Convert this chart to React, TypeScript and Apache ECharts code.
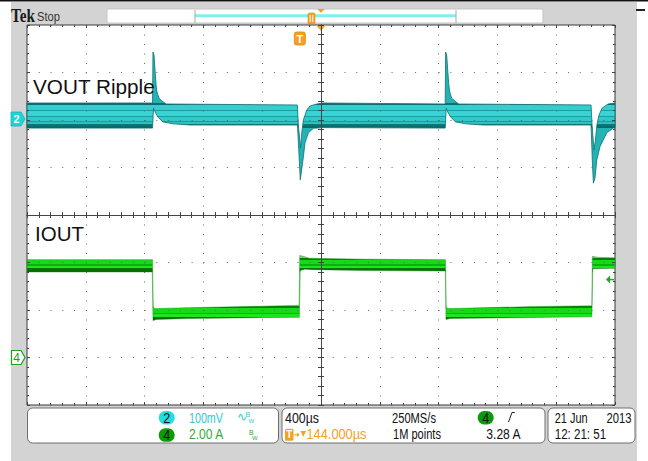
import React, { useEffect, useRef } from "react";
import * as echarts from "echarts";

// ---------- acquisition / axes (scope settings) ----------
const timeMin = -2000; // µs (400 µs/div, 10 div)
const timeMax = 2000;
const timeStep = 400;
const ch2Min = -600; // mV (100 mV/div, ground 2 div above centre)
const ch2Max = 200;
const ch2Step = 100;
const ch4Min = -2; // A (2 A/div, ground 3 div below centre)
const ch4Max = 14;
const ch4Step = 2;
const triggerTime = -144; // µs
const triggerLevel = 3.28; // A

// ---------- labels / readouts ----------
const ch2Name = "VOUT Ripple";
const ch4Name = "IOUT";
const ch2Scale = "100mV";
const ch4Scale = "2.00 A";
const timeScale = "400µs";
const sampleRate = "250MS/s";
const triggerDelay = "144.000µs";
const recordLen = "1M points";
const trigLevelText = "3.28 A";
const dateText = "21 Jun";
const yearText = "2013";
const clockText = "12: 21: 51";

// ---------- CH2 (VOUT) persistence envelope: [µs, mV] ----------
const ch2Upper: [number, number][] = [
  [-2000, 35.8], [-1146, 35.8], [-1143, 143], [-1136, 137], [-1129, 105], [-1122, 74], [-1116, 59],
  [-1102, 46], [-1082, 40], [-1054, 33.7], [-161, 31.6], [-154, -10.5], [-139, -59], [-131, -27],
  [-120, 0], [-97, 21], [-75, 29.5], [-29, 33.7], [14, 35.8], [845, 33.7], [848, 143], [855, 137],
  [862, 105], [869, 76], [876, 59], [889, 46], [910, 40], [937, 33.7], [1837, 31.6], [1844, -10.5],
  [1857, -63], [1867, -42], [1877, -10.5], [1891, 10.5], [1912, 25], [1953, 33.7], [2000, 35.8],
];
const ch2Lower: [number, number][] = [
  [-2000, -17], [-1146, -17], [-1139, 25], [-1129, 17], [-1109, 6], [-1075, -4], [-1007, -8],
  [-891, -10.5], [-160, -10.5], [-146, -95], [-141, -126], [-129, -99], [-120, -78], [-109, -48],
  [-86, -27], [-52, -17.5], [14, -16], [845, -17], [852, 25], [862, 17], [882, 6], [916, -4],
  [984, -8], [1100, -10.5], [1837, -10.5], [1847, -95], [1853, -133], [1864, -122], [1876, -84],
  [1898, -56], [1944, -27], [1989, -17], [2000, -17],
];
const ch2Band: [number, number] = [35.8, -17];

// ---------- CH4 (IOUT) persistence envelope: [µs, A] ----------
const ch4Upper: [number, number][] = [
  [-2000, 4.12], [-1146, 4.12], [-1141, 2.12], [-1130, 2.06], [-900, 2.1], [-400, 2.16], [-149, 2.2],
  [-145, 4.3], [-120, 4.26], [-80, 4.18], [300, 4.14], [847, 4.12], [852, 2.1], [870, 2.06],
  [1400, 2.14], [1842, 2.18], [1846, 4.26], [1880, 4.22], [2000, 4.2],
];
const ch4Lower: [number, number][] = [
  [-2000, 3.6], [-1148, 3.6], [-1143, 1.55], [-1120, 1.6], [-900, 1.64], [-400, 1.68], [-147, 1.7],
  [-141, 3.66], [-110, 3.72], [-60, 3.7], [300, 3.66], [846, 3.64], [850, 1.6], [880, 1.64],
  [1400, 1.68], [1843, 1.72], [1849, 3.74], [2000, 3.76],
];
const ch4Bands: [number, number][] = [[4.2, 3.6], [2.15, 1.58]];

const sans = "'Liberation Sans',Arial,sans-serif";
const serif = "'Liberation Serif','DejaVu Serif',serif";
const dotCol = "#666";
const axCol = "#444";

type Pal = [number, string][];
const ch2Pal: Pal = [
  [0, "#0b6e6e"], [0.09, "#0b6e6e"], [0.09, "#35cece"], [0.28, "#35cece"], [0.28, "#1a9e9e"], [0.33, "#1a9e9e"],
  [0.33, "#3ad2d2"], [0.5, "#3ad2d2"], [0.5, "#1a9e9e"], [0.55, "#1a9e9e"], [0.55, "#30c8c8"],
  [0.7, "#30c8c8"], [0.7, "#1c9c9c"], [0.75, "#1c9c9c"], [0.75, "#2cc0c0"], [0.84, "#2cc0c0"],
  [0.84, "#107a7a"], [1, "#0a6464"],
];
const ch4Pal: Pal = [
  [0, "#0a800a"], [0.15, "#0a800a"], [0.15, "#14dc14"], [0.45, "#14dc14"], [0.45, "#0cb00c"],
  [0.55, "#0cb00c"], [0.55, "#1ee41e"], [0.75, "#1ee41e"], [0.75, "#077507"], [1, "#066806"],
];

function bandGradient(bands: [number, number][], pal: Pal, outside: string) {
  const g0 = Math.min(...bands.map((b) => b[0])) - 1;
  const g1 = Math.max(...bands.map((b) => b[1])) + 1;
  const span = g1 - g0;
  const stops: { offset: number; color: string }[] = [{ offset: 0, color: outside }];
  bands
    .slice()
    .sort((a, b) => a[0] - b[0])
    .forEach(([t, b]) => {
      stops.push({ offset: (t - g0) / span, color: outside });
      pal.forEach(([f, c]) => stops.push({ offset: (t + f * (b - t) - g0) / span, color: c }));
      stops.push({ offset: (b - g0) / span, color: outside });
    });
  stops.push({ offset: 1, color: outside });
  return new echarts.graphic.LinearGradient(0, g0, 0, g1, stops, true);
}

let measureCtx: CanvasRenderingContext2D | null = null;
function textWidth(text: string, size: number, family: string, weight: string) {
  if (!measureCtx && typeof document !== "undefined") measureCtx = document.createElement("canvas").getContext("2d");
  if (!measureCtx) return 0;
  measureCtx.font = `${weight} ${size}px ${family}`;
  return measureCtx.measureText(text).width;
}

// text element; if a target width is given, the glyphs are condensed to it (scope readout font is narrow)
function txt(text: string, x: number, y: number, fill: string, size = 15, align = "left", family = sans, weight = "normal", targetW = 0) {
  let sx = 1;
  if (targetW > 0) {
    const w = textWidth(text, size, family, weight);
    if (w > 0) sx = targetW / w;
  }
  return {
    type: "text",
    x,
    y,
    z: 20,
    silent: true,
    scaleX: sx,
    style: {
      text,
      fill,
      fontSize: size,
      fontFamily: family,
      fontWeight: weight,
      align,
      textAlign: align,
      verticalAlign: "middle",
      textVerticalAlign: "middle",
    },
  };
}

const renderCh2 = (_p: any, api: any) => {
  const up = ch2Upper.map((p) => api.coord(p));
  const lo = ch2Lower.map((p) => api.coord(p));
  const pts = up.concat(lo.slice().reverse());
  const yT = api.coord([0, ch2Band[0]])[1];
  const yB = api.coord([0, ch2Band[1]])[1];
  const grad = bandGradient([[yT, yB]], ch2Pal, "#22b4b4");
  const [gx, gy0] = api.coord([timeMin, 0]);
  const gy = gy0 - 1;
  return {
    type: "group",
    children: [
      { type: "polygon", shape: { points: pts }, style: { fill: grad, stroke: "#0c7070", lineWidth: 0.8 } },
      {
        type: "polygon",
        shape: { points: [[gx - 16, gy - 7], [gx - 6, gy - 7], [gx - 2, gy], [gx - 6, gy + 7], [gx - 16, gy + 7]] },
        style: { fill: "#19d6d6", stroke: "#10b8b8", lineWidth: 0.8 },
      },
      {
        type: "text",
        x: gx - 10.5,
        y: gy,
        style: { text: "2", fill: "#ffffff", fontSize: 11, fontFamily: sans, fontWeight: "bold", align: "center", textAlign: "center", verticalAlign: "middle", textVerticalAlign: "middle" },
      },
    ],
  };
};

const renderCh4 = (_p: any, api: any) => {
  const up = ch4Upper.map((p) => api.coord(p));
  const lo = ch4Lower.map((p) => api.coord(p));
  const pts = up.concat(lo.slice().reverse());
  const bands = ch4Bands.map((b) => [api.coord([0, b[0]])[1], api.coord([0, b[1]])[1]] as [number, number]);
  const grad = bandGradient(bands, ch4Pal, "#7acc7a");
  const [gx, gy] = api.coord([timeMin, 0]);
  const [rx, ly] = api.coord([timeMax, triggerLevel]);
  const [tx, top] = api.coord([triggerTime, ch4Max]);
  const [cx] = api.coord([0, ch4Max]);
  const trig = "#f5a023";
  return {
    type: "group",
    children: [
      { type: "polygon", shape: { points: pts }, style: { fill: grad, stroke: "#0c8a0c", lineWidth: 0.4 } },
      {
        type: "polygon",
        shape: { points: [[gx - 15.5, gy - 7], [gx - 6, gy - 7], [gx - 2, gy], [gx - 6, gy + 7], [gx - 15.5, gy + 7]] },
        style: { fill: "#ffffff", stroke: "#1e9e1e", lineWidth: 1.2 },
      },
      {
        type: "text",
        x: gx - 10.5,
        y: gy,
        style: { text: "4", fill: "#1e9e1e", fontSize: 12, fontFamily: sans, align: "center", textAlign: "center", verticalAlign: "middle", textVerticalAlign: "middle" },
      },
      // trigger level arrow
      { type: "polygon", shape: { points: [[rx - 9, ly], [rx - 5, ly - 4], [rx - 5, ly + 4]] }, style: { fill: "#22a822" } },
      { type: "line", shape: { x1: rx - 5, y1: ly, x2: rx - 1, y2: ly }, style: { stroke: "#22a822", lineWidth: 1.5 } },
      // trigger position marker
      { type: "rect", shape: { x: tx - 5.5, y: top + 7, width: 11, height: 13, r: 2 }, style: { fill: trig, stroke: "#e08810", lineWidth: 0.8 } },
      {
        type: "text",
        x: tx,
        y: top + 13.8,
        style: { text: "T", fill: "#ffffff", fontSize: 11, fontFamily: sans, fontWeight: "bold", align: "center", textAlign: "center", verticalAlign: "middle", textVerticalAlign: "middle" },
      },
      // expansion point
      { type: "polygon", shape: { points: [[cx - 5, top], [cx + 5, top], [cx, top + 6]] }, style: { fill: trig } },
    ],
  };
};

function centreX(pos: string) {
  return {
    type: "value", min: timeMin, max: timeMax, interval: timeStep, position: pos, z: 3,
    axisLine: { show: true, onZero: true, onZeroAxisIndex: 0, lineStyle: { color: axCol, width: 1 } },
    axisTick: { show: true, length: 3, lineStyle: { color: axCol } },
    minorTick: { show: true, splitNumber: 5, length: 3, lineStyle: { color: axCol } },
    splitLine: { show: pos === "bottom", lineStyle: { color: dotCol, width: 1, type: [1, 8.5] } },
    axisLabel: { show: false },
  };
}
function frameX(pos: string) {
  return {
    type: "value", min: timeMin, max: timeMax, interval: timeStep, position: pos, z: 3,
    axisLine: { show: false, onZero: false },
    axisTick: { show: true, inside: true, length: 3, lineStyle: { color: axCol } },
    minorTick: { show: true, splitNumber: 5, length: 2, lineStyle: { color: axCol } },
    splitLine: { show: false },
    axisLabel: { show: false },
  };
}
function centreY(pos: string) {
  return {
    type: "value", min: -4, max: 4, interval: 1, position: pos, z: 3,
    axisLine: { show: true, onZero: true, onZeroAxisIndex: 0, lineStyle: { color: axCol, width: 1 } },
    axisTick: { show: true, length: 3, lineStyle: { color: axCol } },
    minorTick: { show: true, splitNumber: 5, length: 3, lineStyle: { color: axCol } },
    splitLine: { show: pos === "left", lineStyle: { color: dotCol, width: 1, type: [1, 10.76] } },
    axisLabel: { show: false },
  };
}
function frameY(pos: string) {
  return {
    type: "value", min: -4, max: 4, interval: 1, position: pos, z: 3,
    axisLine: { show: false, onZero: false },
    axisTick: { show: true, inside: true, length: 3, lineStyle: { color: axCol } },
    minorTick: { show: true, splitNumber: 5, length: 2, lineStyle: { color: axCol } },
    splitLine: { show: false },
    axisLabel: { show: false },
  };
}

const cyanTxt = "#2fcaca";
const greenTxt = "#36aa36";
const orange = "#f5a023";

function buildGraphics(): any[] {
  return [
    { type: "rect", z: -20, silent: true, shape: { x: 0, y: 0, width: 648, height: 461 }, style: { fill: "#ffffff" } },
    { type: "rect", z: -19, silent: true, shape: { x: 11, y: 2, width: 626, height: 459 }, style: { fill: "#d3d3d3" } },
    { type: "rect", z: -18, silent: true, shape: { x: 0, y: 0, width: 648, height: 1.6 }, style: { fill: "#111" } },
    { type: "rect", z: 5, silent: true, shape: { x: 636, y: 9, width: 9, height: 2 }, style: { fill: "#222" } },
    txt("Tek", 11, 16, "#1a1a1a", 18, "left", serif, "bold", 24),
    txt("Stop", 37, 17, "#333", 13, "left", sans, "normal", 23),
    // record view
    { type: "rect", z: 5, silent: true, shape: { x: 107, y: 9, width: 436, height: 14 }, style: { fill: "#fff", stroke: "#c4c4c4", lineWidth: 1 } },
    { type: "line", z: 6, silent: true, shape: { x1: 195, y1: 15.8, x2: 456, y2: 15.8 }, style: { stroke: "#7ff0f0", lineWidth: 3 } },
    { type: "line", z: 6, silent: true, shape: { x1: 195, y1: 10, x2: 195, y2: 23 }, style: { stroke: "#a8a8a8", lineWidth: 1 } },
    { type: "line", z: 6, silent: true, shape: { x1: 456, y1: 10, x2: 456, y2: 23 }, style: { stroke: "#a8a8a8", lineWidth: 1 } },
    { type: "polygon", z: 7, silent: true, shape: { points: [[317.5, 9], [324.5, 9], [321, 13]] }, style: { fill: orange } },
    { type: "rect", z: 7, silent: true, shape: { x: 308, y: 13, width: 7, height: 11, r: 1.5 }, style: { fill: orange, stroke: "#e08810", lineWidth: 0.6 } },
    { type: "line", z: 8, silent: true, shape: { x1: 310.2, y1: 15, x2: 310.2, y2: 22 }, style: { stroke: "#fff", lineWidth: 1 } },
    { type: "line", z: 8, silent: true, shape: { x1: 312.8, y1: 15, x2: 312.8, y2: 22 }, style: { stroke: "#fff", lineWidth: 1 } },
    // channel labels
    txt(ch2Name, 33, 86.7, "#111", 20, "left", sans, "normal", 122),
    txt(ch4Name, 35, 234.2, "#111", 20, "left", sans, "normal", 49),
    // readout boxes
    { type: "rect", z: 5, silent: true, shape: { x: 27.5, y: 408, width: 251, height: 35, r: 5 }, style: { fill: "#fff", stroke: "#6e6e6e", lineWidth: 1 } },
    { type: "rect", z: 5, silent: true, shape: { x: 282, y: 408, width: 263, height: 35, r: 5 }, style: { fill: "#fff", stroke: "#6e6e6e", lineWidth: 1 } },
    { type: "rect", z: 5, silent: true, shape: { x: 548, y: 408, width: 87, height: 35, r: 5 }, style: { fill: "#fff", stroke: "#6e6e6e", lineWidth: 1 } },
    { type: "rect", z: 6, silent: true, shape: { x: 158.7, y: 411, width: 16, height: 13.5, r: 6.5 }, style: { fill: "#22dede" } },
    txt("2", 166.7, 417.8, "#111", 14, "center", sans, "normal", 7),
    { type: "rect", z: 6, silent: true, shape: { x: 158.7, y: 428.3, width: 16, height: 13.5, r: 6.5 }, style: { fill: "#0a9a0a" } },
    txt("4", 166.7, 435, "#111", 14, "center", sans, "normal", 7),
    txt(ch2Scale, 189, 417.8, cyanTxt, 15, "left", sans, "normal", 34),
    txt(ch4Scale, 189, 434, greenTxt, 15, "left", sans, "normal", 35),
    txt("∿", 237, 417, cyanTxt, 12, "left", sans),
    txt("B", 245.5, 414.5, cyanTxt, 7, "left", sans),
    txt("W", 248.5, 420.5, cyanTxt, 6, "left", sans),
    txt("B", 249, 432, greenTxt, 7, "left", sans),
    txt("W", 252, 438, greenTxt, 6, "left", sans),
    txt(timeScale, 285, 417.8, "#111", 15, "left", sans, "normal", 34),
    txt(sampleRate, 392, 417.8, "#111", 15, "left", sans, "normal", 44),
    { type: "rect", z: 6, silent: true, shape: { x: 477.7, y: 411, width: 16, height: 13.5, r: 6.5 }, style: { fill: "#0a9a0a" } },
    txt("4", 485.7, 417.8, "#111", 14, "center", sans, "normal", 7),
    { type: "polyline", z: 6, silent: true, shape: { points: [[508.5, 422], [512, 412.5], [514.8, 412.5]] }, style: { stroke: "#222", lineWidth: 1, fill: "none" } },
    { type: "rect", z: 6, silent: true, shape: { x: 285, y: 428.8, width: 8.5, height: 12, r: 1.5 }, style: { fill: orange } },
    txt("T", 289.3, 434.8, "#fff", 10, "center", sans, "bold"),
    { type: "line", z: 6, silent: true, shape: { x1: 294.5, y1: 434.8, x2: 299, y2: 434.8 }, style: { stroke: orange, lineWidth: 1.2 } },
    { type: "polygon", z: 6, silent: true, shape: { points: [[297, 432.5], [299.5, 434.8], [297, 437.1]] }, style: { fill: orange } },
    { type: "polygon", z: 6, silent: true, shape: { points: [[300.5, 431], [306, 431], [303.25, 437]] }, style: { fill: orange } },
    txt(triggerDelay, 306.5, 434, orange, 15, "left", sans, "normal", 60),
    txt(recordLen, 393, 434, "#111", 15, "left", sans, "normal", 48),
    txt(trigLevelText, 486.3, 434, "#111", 15, "left", sans, "normal", 35),
    txt(dateText, 554.7, 417.8, "#111", 15, "left", sans, "normal", 33),
    txt(yearText, 631.5, 417.8, "#111", 15, "right", sans, "normal", 25),
    txt(clockText, 554.7, 434, "#111", 15, "left", sans, "normal", 51.5),
  ];
}

export default function App() {
  const ref = useRef<HTMLDivElement>(null);
  useEffect(() => {
    if (!ref.current) return;
    const chart = echarts.init(ref.current, undefined, { renderer: "svg" });
    chart.setOption({
      animation: false,
      backgroundColor: "transparent",
      grid: { left: 27, top: 25, width: 588, height: 380, show: true, backgroundColor: "#ffffff", borderColor: "#3a3a3a", borderWidth: 1 },
      xAxis: [centreX("bottom"), centreX("top"), frameX("bottom"), frameX("top")],
      yAxis: [
        centreY("left"),
        { type: "value", min: ch2Min, max: ch2Max, interval: ch2Step, show: false },
        { type: "value", min: ch4Min, max: ch4Max, interval: ch4Step, show: false },
        centreY("right"),
        frameY("left"),
        frameY("right"),
      ],
      graphic: { elements: buildGraphics() },
      series: [
        { type: "custom", name: "CH2", xAxisIndex: 0, yAxisIndex: 1, clip: false, silent: true, z: 2, data: [[0, 0]], renderItem: renderCh2 },
        { type: "custom", name: "CH4", xAxisIndex: 0, yAxisIndex: 2, clip: false, silent: true, z: 2, data: [[0, 0]], renderItem: renderCh4 },
      ],
    });
    return () => chart.dispose();
  }, []);
  return (
    <div style={{ position: "absolute", left: 0, top: 0, width: 648, height: 461 }}>
      <div ref={ref} style={{ width: 648, height: 461 }} />
    </div>
  );
}
